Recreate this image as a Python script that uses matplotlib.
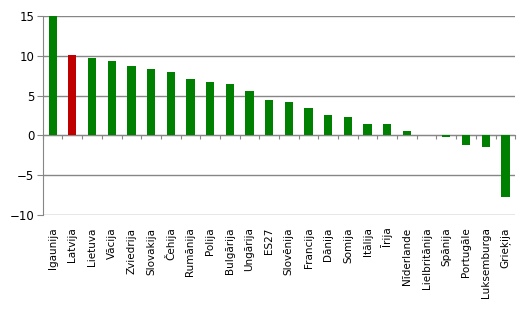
import matplotlib.pyplot as plt
import numpy as np

# data
countries = ['Igaunija', 'Latvija', 'Lietuva', 'Vācija', 'Zviedrija', 'Slovakija',
             'Čehija', 'Rumānija', 'Polija', 'Bulgārija', 'Ungārija', 'ES27',
             'Slovēnija', 'Francija', 'Dānija', 'Somija', 'Itālija', 'Īrija',
             'Nīderlande', 'Lielbritānija', 'Spānija', 'Portugāle', 'Luksemburga',
             'Grieķija']
values = [15.0, 10.1, 9.75, 9.4, 8.75, 8.4, 8.0, 7.1, 6.75, 6.5, 5.6, 4.5,
          4.25, 3.4, 2.6, 2.25, 1.4, 1.4, 0.6, 0.0, -0.2, -1.2, -1.45, -7.75]
highlight = 'Latvija'

green = '#008000'
red = '#C00000'
grid_col = '#868686'

fig = plt.figure(figsize=(5.22, 3.13), dpi=100)
ax = fig.add_axes([0.082, 0.313, 0.905, 0.636])

x = np.arange(len(countries))
colors = [red if c == highlight else green for c in countries]
ax.bar(x, values, width=0.42, color=colors, zorder=3)

ax.set_xlim(-0.5, len(countries) - 0.5)
ax.set_ylim(-10, 15)
ax.set_yticks([-10, -5, 0, 5, 10, 15])
ax.yaxis.grid(True, color=grid_col, linewidth=1)
ax.set_axisbelow(True)

for s in ['top', 'right', 'bottom']:
    ax.spines[s].set_visible(False)
ax.spines['left'].set_color(grid_col)

ax.set_xticks(x)
ax.set_xticklabels(countries, rotation=90, fontsize=7.5)
ax.tick_params(axis='x', length=0, pad=9)
ax.tick_params(axis='y', length=4, color=grid_col, labelsize=8.5, pad=2)

# category separators on the zero line
sec = ax.secondary_xaxis(10 / 25)
sec.spines['bottom'].set_color(grid_col)
sec.set_xticks(np.arange(len(countries) + 1) - 0.5)
sec.set_xticklabels([])
sec.tick_params(length=3, color=grid_col)

fig.savefig('out.png', dpi=100)
